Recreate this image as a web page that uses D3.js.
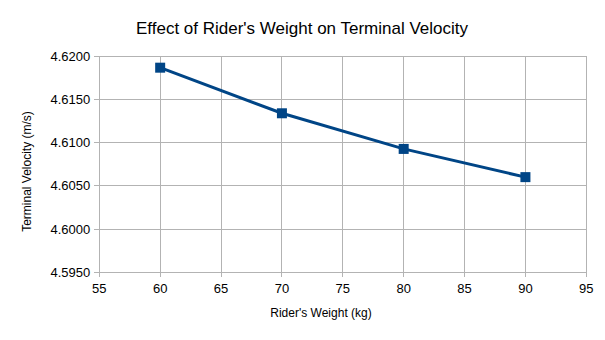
<!DOCTYPE html>
<html><head><meta charset="utf-8">
<script src="https://cdn.jsdelivr.net/npm/d3@7"></script>
<style>body{margin:0;background:#fff;} svg{display:block;} text{font-family:"Liberation Sans",Arial,sans-serif;}</style>
</head><body><svg id="c" width="605" height="340"></svg>
<script>
const weights = [60, 70, 80, 90];
const velocities = [4.61865, 4.61338, 4.60926, 4.60600];
const xTicks = [55, 60, 65, 70, 75, 80, 85, 90, 95];
const yTicks = [4.595, 4.600, 4.605, 4.610, 4.615, 4.620];
const title = "Effect of Rider's Weight on Terminal Velocity";
const xTitle = "Rider's Weight (kg)";
const yTitle = "Terminal Velocity (m/s)";

const svg = d3.select("#c");
const L = 99.3, R = 586.3, T = 56, B = 272.3;
const x = d3.scaleLinear().domain([55, 95]).range([L, R]);
const y = d3.scaleLinear().domain([4.595, 4.620]).range([B, T]);
const grid = "#b3b3b3";

// gridlines
svg.append("g").selectAll("line").data(xTicks).join("line")
  .attr("x1", d => x(d)).attr("x2", d => x(d)).attr("y1", T).attr("y2", B + 5)
  .attr("stroke", grid).attr("stroke-width", 1).attr("shape-rendering", "crispEdges");
svg.append("g").selectAll("line").data(yTicks).join("line")
  .attr("x1", L - 5).attr("x2", R).attr("y1", d => y(d)).attr("y2", d => y(d))
  .attr("stroke", grid).attr("stroke-width", 1).attr("shape-rendering", "crispEdges");

// tick labels
svg.append("g").selectAll("text").data(xTicks).join("text")
  .attr("x", d => x(d)).attr("y", B + 20.5).attr("text-anchor", "middle")
  .attr("font-size", 13).attr("fill", "#000").text(d => d);
svg.append("g").selectAll("text").data(yTicks).join("text")
  .attr("x", L - 9).attr("y", d => y(d) + 4.5).attr("text-anchor", "end")
  .attr("font-size", 13).attr("fill", "#000").text(d => d3.format(".4f")(d));

// titles
svg.append("text").attr("x", 302).attr("y", 34).attr("text-anchor", "middle")
  .attr("font-size", 17).attr("fill", "#000").text(title);
svg.append("text").attr("x", 321).attr("y", 317).attr("text-anchor", "middle")
  .attr("font-size", 12).attr("fill", "#000").text(xTitle);
svg.append("text").attr("transform", "translate(31,171.5) rotate(-90)")
  .attr("text-anchor", "middle").attr("font-size", 12).attr("fill", "#000").text(yTitle);

// series
const data = weights.map((w, i) => ({w, v: velocities[i]}));
svg.append("path").datum(data)
  .attr("d", d3.line().x(d => x(d.w)).y(d => y(d.v)))
  .attr("fill", "none").attr("stroke", "#004586").attr("stroke-width", 3);
svg.append("g").selectAll("rect").data(data).join("rect")
  .attr("x", d => x(d.w) - 5).attr("y", d => y(d.v) - 5)
  .attr("width", 10).attr("height", 10).attr("fill", "#004586");
</script></body></html>
